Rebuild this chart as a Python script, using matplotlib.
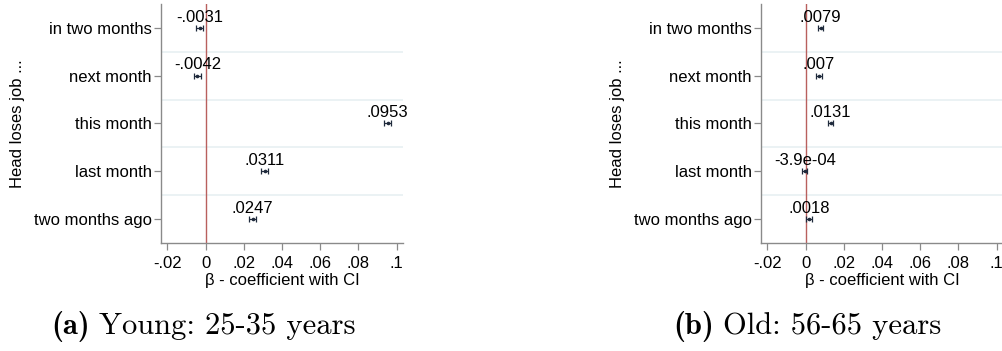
import numpy as np
import matplotlib
matplotlib.use("Agg")
import matplotlib.pyplot as plt

# event-study coefficients by timing of head's job loss
periods = ["in two months", "next month", "this month", "last month", "two months ago"]

young_coef = [-0.0031, -0.0042, 0.0953, 0.0311, 0.0247]
young_ci = [0.0018, 0.0018, 0.0019, 0.0018, 0.0018]

old_coef = [0.0079, 0.007, 0.0131, -0.00039, 0.0018]
old_ci = [0.0014, 0.0014, 0.0014, 0.0014, 0.0014]

xticks = [-0.02, 0, 0.02, 0.04, 0.06, 0.08, 0.1]
xticklabels = ["-.02", "0", ".02", ".04", ".06", ".08", ".1"]

captions = [("(a)", "Young: 25-35 years"), ("(b)", "Old: 56-65 years")]

plt.rcParams["font.family"] = ["Liberation Sans", "DejaVu Sans"]

marker_col = "#1f2a3c"
axis_grey = "#8a8a8a"
fs = 12.0


def fmt(v):
    # stata-style label: no leading zero, sci notation for tiny values
    if abs(v) < 0.001:
        return "%.1e" % v
    s = "%.3g" % v
    return s.replace("0.", ".", 1)


fig = plt.figure(figsize=(10.03, 3.51), dpi=100)
W, H = 1003.0, 351.0
panels = [(161, young_coef, young_ci), (761, old_coef, old_ci)]
cap_centres = [203, 807]

renderer = fig.canvas.get_renderer()

for (x0, coef, ci), (tag, cap), cc in zip(panels, captions, cap_centres):
    ax = fig.add_axes([x0 / W, 1 - 243 / H, 242 / W, 239 / H])
    y = np.arange(1, len(periods) + 1)

    # light separators between categories
    for yy in y[:-1] + 0.5:
        ax.axhline(yy, color="#e8f0f2", lw=1.2, zorder=0)
    ax.axvline(0, color="#b9605e", lw=1.0, zorder=1)

    ax.errorbar(coef, y, xerr=ci, fmt="o", color=marker_col, ms=1.6,
                elinewidth=0.9, capsize=2, capthick=0.9, zorder=3)
    for c, yy in zip(coef, y):
        ax.annotate(fmt(c), (c, yy), xytext=(0, 4.5), textcoords="offset points",
                    ha="center", va="baseline", fontsize=fs, color="black")

    ax.set_xlim(-0.0233, 0.1034)
    ax.set_ylim(5.5, 0.5)
    ax.set_yticks(y)
    ax.set_yticklabels(periods, fontsize=fs)
    ax.set_xticks(xticks)
    ax.set_xticklabels(xticklabels, fontsize=fs)
    ax.set_xlabel("\u03b2 - coefficient with CI", fontsize=fs, labelpad=2)
    ax.set_ylabel("Head loses job ...", fontsize=fs)
    ax.yaxis.set_label_coords(-136 / 242, 0.5)

    for side in ["top", "right"]:
        ax.spines[side].set_visible(False)
    for side in ["left", "bottom"]:
        ax.spines[side].set_color(axis_grey)
        ax.spines[side].set_linewidth(1.0)
    ax.tick_params(colors=axis_grey, labelcolor="black", length=5, width=0.9)
    ax.tick_params(axis="y", pad=1.5)
    ax.tick_params(axis="x", pad=4)

    # sub-caption: bold tag followed by roman text
    t1 = fig.text(0, 1 - 326 / H, tag, family="cmb10", fontsize=22, va="center")
    t2 = fig.text(0, 1 - 326 / H, cap, family="cmr10", fontsize=22, va="center")
    w1 = t1.get_window_extent(renderer).width
    w2 = t2.get_window_extent(renderer).width
    gap = 9
    left = cc - (w1 + gap + w2) / 2
    t1.set_x(left / W)
    t2.set_x((left + w1 + gap) / W)

fig.savefig("out.png", dpi=100)
